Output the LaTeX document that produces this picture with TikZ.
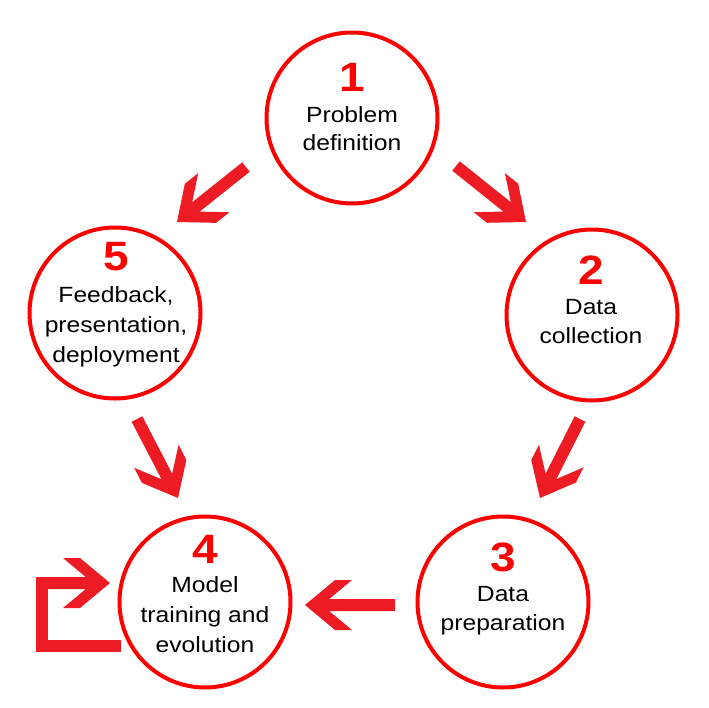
\documentclass[tikz,border=0pt]{standalone}
\usepackage{fontspec}
\setmainfont{Liberation Sans}
\newfontfamily\labfont[FakeStretch=1.12]{Liberation Sans}
\usetikzlibrary{calc}
\definecolor{ringred}{HTML}{FF0000}
\definecolor{arrred}{HTML}{ED1C24}
\newcommand\bigarrow[2]{%
  \pgfmathanglebetweenpoints{\pgfpointanchor{#1}{center}}{\pgfpointanchor{#2}{center}}%
  \edef\arrang{\pgfmathresult}%
  \pgfpointdiff{\pgfpointanchor{#1}{center}}{\pgfpointanchor{#2}{center}}%
  \pgfgetlastxy{\arrdx}{\arrdy}%
  \pgfmathveclen{\arrdx}{\arrdy}%
  \edef\arrlen{\pgfmathresult}%
  \fill[arrowfill,shift={(#2)},rotate=\arrang] (0,0) -- (-30,25) -- (-47,25) -- (-24.2,6) -- (-\arrlen,6) -- (-\arrlen,-6) -- (-24.2,-6) -- (-47,-25) -- (-30,-25) -- cycle;%
}
\begin{document}
\begin{tikzpicture}[x=1pt,y=-1pt,
  stage/.style={circle,draw=ringred,line width=4pt,minimum size=171pt,inner sep=0pt},
  num/.style={anchor=base,inner sep=0pt,text=ringred,font=\labfont\bfseries\fontsize{41}{41}\selectfont},
  lab/.style={anchor=base,inner sep=0pt,text=black,font=\labfont\fontsize{22}{22}\selectfont},
  arrowfill/.style={fill=arrred},
  bentline/.style={draw=arrred,line width=12pt,line join=miter}]
\useasboundingbox[fill=white] (0,0) rectangle (709,707);

% circles
\node[stage] (c1) at (352,118) {};
\node[stage] (c2) at (592,315) {};
\node[stage] (c3) at (503,602) {};
\node[stage] (c4) at (205,602) {};
\node[stage] (c5) at (115,313) {};

% texts
\node[num] (n1) at (352,91) {1};
\node[lab] (t1a) at (352,122) {Problem};
\node[lab] (t1b) at (352,150) {definition};

\node[num] (n2) at (591,284) {2};
\node[lab] (t2a) at (591,314) {Data};
\node[lab] (t2b) at (591,343) {collection};

\node[num] (n3) at (503,571) {3};
\node[lab] (t3a) at (503,601) {Data};
\node[lab] (t3b) at (503,630) {preparation};

\node[num] (n4) at (205,563) {4};
\node[lab] (t4a) at (205,592) {Model};
\node[lab] (t4b) at (205,622) {training and};
\node[lab] (t4c) at (205,652) {evolution};

\node[num] (n5) at (116,270) {5};
\node[lab] (t5a) at (116,302) {Feedback,};
\node[lab] (t5b) at (116,332) {presentation,};
\node[lab] (t5c) at (116,362) {deployment};

% arrow end points
\coordinate (a15t) at (246,167); \coordinate (a15h) at (177,222);
\coordinate (a12t) at (456,166); \coordinate (a12h) at (526,222);
\coordinate (a23t) at (580,419); \coordinate (a23h) at (540,498);
\coordinate (a54t) at (137,419); \coordinate (a54h) at (178,498);
\coordinate (a34t) at (395,605); \coordinate (a34h) at (305,605);
\coordinate (r0) at (121,645.5);
\coordinate (r1) at (41.5,645.5);
\coordinate (r2) at (41.5,583);
\coordinate (r3) at (110,583);

\bigarrow{a15t}{a15h}
\bigarrow{a12t}{a12h}
\bigarrow{a23t}{a23h}
\bigarrow{a54t}{a54h}
\bigarrow{a34t}{a34h}
\draw[bentline] (r0) -- (r1) -- (r2) -- ($(r2)!0.5!(r3)$);
\bigarrow{r2}{r3}
\end{tikzpicture}
\end{document}
